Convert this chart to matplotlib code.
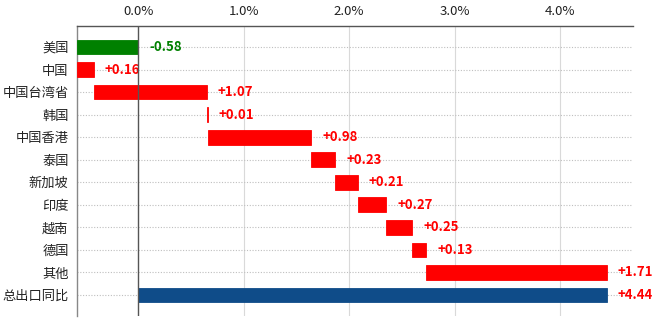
import matplotlib
matplotlib.use("Agg")
import matplotlib.pyplot as plt
import numpy as np

plt.rcParams['font.family'] = ['Noto Sans CJK SC', 'DejaVu Sans']

categories = ["美国", "中国", "中国台湾省", "韩国", "中国香港", "泰国", "新加坡", "印度", "越南", "德国", "其他", "总出口同比"]
changes = [-0.58, 0.16, 1.07, 0.01, 0.98, 0.23, 0.21, 0.27, 0.25, 0.13, 1.71]
total = 4.44
xticks = [0, 1, 2, 3, 4]
xticklabels = ["0.0%", "1.0%", "2.0%", "3.0%", "4.0%"]

fig = plt.figure(figsize=(6.6, 3.23), dpi=100)
ax = fig.add_axes([77/660, 1 - 316/323, (633-77)/660, (316-26)/323])

lefts = []
widths = []
cum = 0.0
for v in changes:
    start = cum
    end = cum + v
    lefts.append(min(start, end))
    widths.append(abs(v))
    cum = end
lefts.append(0.0)
widths.append(total)
values = changes + [total]

colors = []
for i, v in enumerate(values):
    if i == len(values) - 1:
        colors.append("#0F4C89")
    elif v < 0:
        colors.append("#008000")
    else:
        colors.append("#FF0000")

y = np.arange(len(categories))
ax.barh(y, widths, left=lefts, height=0.65, color=colors, edgecolor=colors,
        linewidth=0.6, zorder=3)

for i, v in enumerate(values):
    xend = lefts[i] + widths[i]
    txt = f"{v:+.2f}"
    col = "#008000" if v < 0 else "#FF0000"
    ax.annotate(txt, (xend, y[i]), xytext=(11, 0), textcoords="offset pixels",
                ha="left", va="center", fontsize=9.5, fontweight="bold", color=col, zorder=4)

ax.set_xlim(-0.58, 4.69)
ax.set_ylim(11.93, -0.93)
ax.set_yticks(y)
ax.set_yticklabels(categories, fontsize=9.5, color="#222222")
ax.xaxis.tick_top()
ax.set_xticks(xticks)
ax.set_xticklabels(xticklabels, fontsize=9.5, color="#222222")
ax.tick_params(axis="both", length=0, pad=6)

for xv in xticks[1:]:
    ax.axvline(xv, color="#d9d9d9", lw=0.8, zorder=1)
ax.axvline(0, color="#555555", lw=1.0, zorder=4)
for yv in y:
    ax.axhline(yv, color="#bfbfbf", lw=0.8, ls=(0, (1, 1.5)), zorder=1)

for s in ["right", "bottom"]:
    ax.spines[s].set_visible(False)
ax.spines["top"].set_color("#555555")
ax.spines["left"].set_color("#888888")
ax.spines["top"].set_linewidth(1.0)
ax.spines["left"].set_linewidth(1.0)

fig.savefig("out.png", dpi=100)
